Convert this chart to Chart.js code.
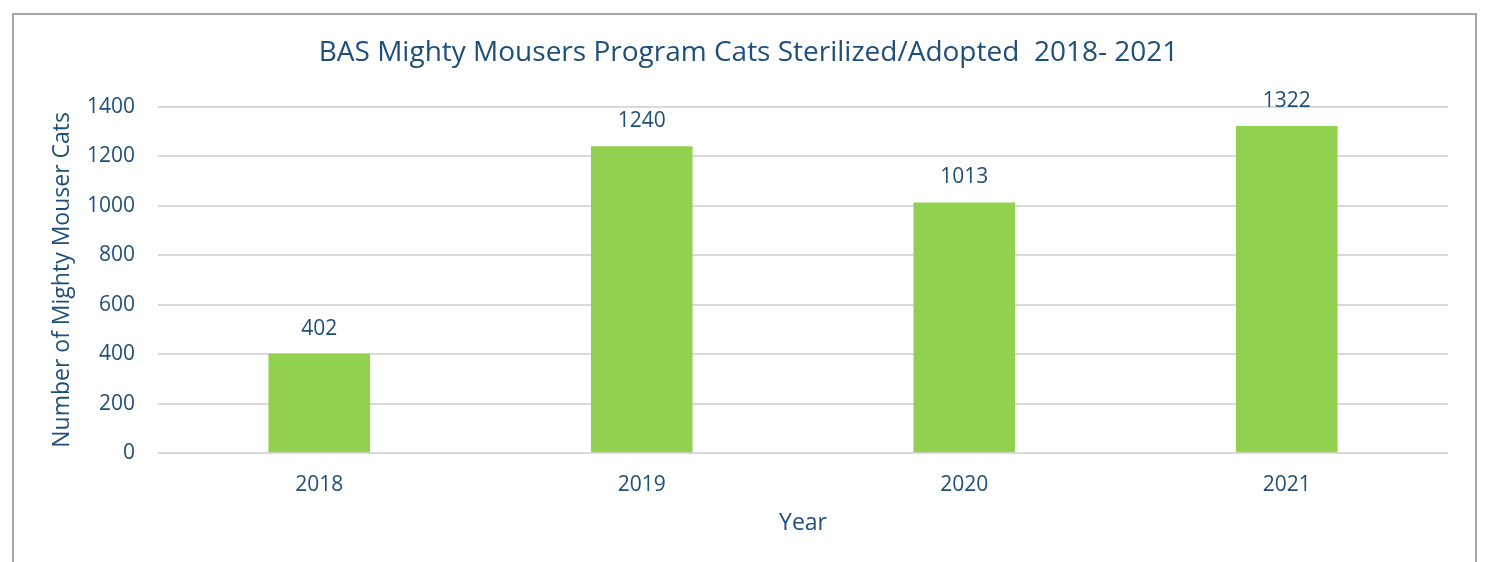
<!DOCTYPE html>
<html>
<head>
<meta charset="utf-8">
<script src="https://cdn.jsdelivr.net/npm/chart.js@4/dist/chart.umd.min.js"></script>
<style>
  body { margin: 0; background: #fff; }
  #frame {
    position: absolute; left: 12px; top: 13px;
    width: 1461px; height: 560px;
    border: 2px solid #a6a6a6; border-bottom: none;
  }
  #wrap { position: absolute; left: 0; top: 0; width: 1461px; height: 547px; }
</style>
</head>
<body>
<div id="frame"><div id="wrap"><canvas id="chartCats"></canvas></div></div>
<script>
const years = ['2018', '2019', '2020', '2021'];
const catsCounts = [402, 1240, 1013, 1322];
const yTicks = [0, 200, 400, 600, 800, 1000, 1200, 1400];

const textColor = '#1f4e79';
const fontFamily = "'Open Sans', 'Noto Sans', sans-serif";

// draws the number above each bar
const valueLabels = {
    id: 'valueLabels',
    afterDatasetsDraw(chart) {
        const ctx = chart.ctx;
        const meta = chart.getDatasetMeta(0);
        ctx.save();
        ctx.fillStyle = textColor;
        ctx.font = "21px " + fontFamily;
        ctx.textAlign = 'center';
        ctx.textBaseline = 'middle';
        meta.data.forEach((bar, i) => {
            ctx.fillText(catsCounts[i], bar.x, bar.y - 25);
        });
        ctx.restore();
    }
};

new Chart(document.getElementById('chartCats'), {
    type: 'bar',
    data: {
        labels: years,
        datasets: [{
            label: 'Cats',
            data: catsCounts,
            backgroundColor: '#92d050',
            categoryPercentage: 1,
            barPercentage: 0.315,
        }]
    },
    options: {
        responsive: true,
        maintainAspectRatio: false,
        animation: false,
        layout: { padding: { left: 35, right: 27, top: 12, bottom: 25 } },
        plugins: {
            legend: { display: false },
            tooltip: { enabled: false },
            title: {
                display: true,
                text: 'BAS Mighty Mousers Program Cats Sterilized/Adopted  2018- 2021',
                color: textColor,
                font: { family: fontFamily, size: 28, weight: 'normal' },
                padding: { top: 9, bottom: 37 }
            }
        },
        scales: {
            x: {
                grid: { display: false },
                border: { display: false },
                ticks: {
                    color: textColor,
                    font: { family: fontFamily, size: 21 },
                    padding: 11
                },
                title: {
                    display: true,
                    text: 'Year',
                    color: textColor,
                    font: { family: fontFamily, size: 23 },
                    padding: { top: 1, bottom: 0 }
                }
            },
            y: {
                min: 0,
                max: 1400,
                afterBuildTicks(axis) {
                    axis.ticks = yTicks.map(v => ({ value: v }));
                },
                afterFit(axis) {
                    axis.width = 109;
                },
                grid: { color: '#d9d9d9', lineWidth: 2, drawTicks: false },
                border: { display: false },
                ticks: {
                    color: textColor,
                    font: { family: fontFamily, size: 21 },
                    padding: 23,
                    callback: v => String(v)
                },
                title: {
                    display: true,
                    text: 'Number of Mighty Mouser Cats',
                    color: textColor,
                    font: { family: fontFamily, size: 23 },
                    padding: { top: 0, bottom: 0 }
                }
            }
        }
    },
    plugins: [valueLabels]
});
</script>
</body>
</html>
